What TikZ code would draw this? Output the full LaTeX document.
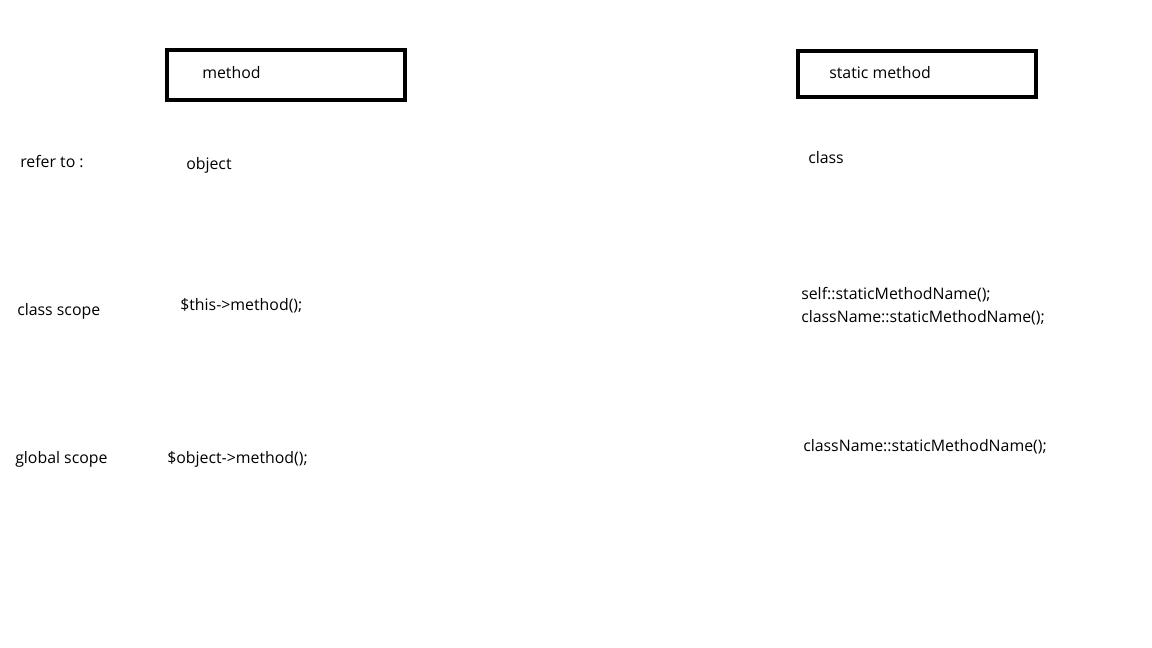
\documentclass[tikz,border=0pt]{standalone}
\usepackage{fontspec}
\setmainfont{Open Sans}[Ligatures=NoCommon]
\begin{document}
\begin{tikzpicture}[x=0.75pt,y=-0.75pt,
  lbl/.style={anchor=west,inner sep=0pt,font=\fontsize{11.9}{17.25}\selectfont,align=left},
  hbox/.style={draw=black,line width=3.4pt,fill=white}]
\useasboundingbox[fill=white] (0,0) rectangle (1152,648);
\draw[hbox] (167,50) rectangle (405,100);
\draw[hbox] (798,51) rectangle (1036,97);
\node[lbl] (m) at (202,73) {method};
\node[lbl] (sm) at (829,73) {static method};
\node[lbl] (r) at (20,162) {refer to :};
\node[lbl] (o) at (186,165) {object};
\node[lbl] (c) at (808,158) {class};
\node[lbl] (cs) at (17,311) {class scope};
\node[lbl] (t) at (180,306) {\$this->method();};
\node[lbl] (s) at (801,306) {self::staticMethodName();\\className::staticMethodName();};
\node[lbl] (gs) at (15,459) {global scope};
\node[lbl] (ob) at (167,459) {\$object->method();};
\node[lbl] (cn) at (803,447) {className::staticMethodName();};
\end{tikzpicture}
\end{document}
